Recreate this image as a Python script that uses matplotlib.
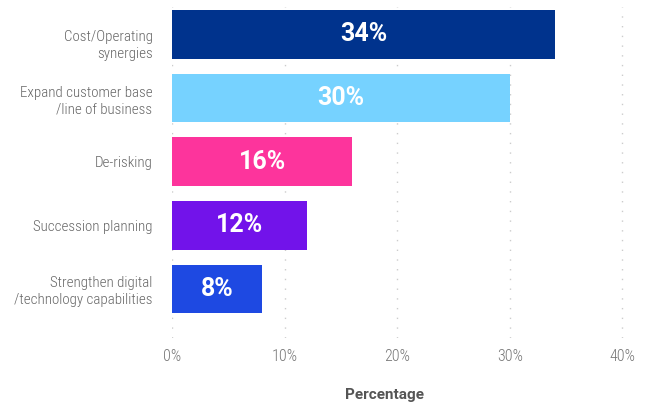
import matplotlib.pyplot as plt
import matplotlib.transforms as mtransforms
from matplotlib import font_manager

categories = ["Cost/Operating\nsynergies",
              "Expand customer base\n/line of business",
              "De-risking",
              "Succession planning",
              "Strengthen digital\n/technology capabilities"]
values = [34, 30, 16, 12, 8]
bar_colors = ["#00338D", "#76D2FF", "#FD349C", "#7213EA", "#1E49E2"]
xticks = [0, 10, 20, 30, 40]
xtick_labels = ["0%", "10%", "20%", "30%", "40%"]

# pick a narrow face for axis text if one is installed
names = {f.name for f in font_manager.fontManager.ttflist}
narrow_kw = {"family": "DejaVu Sans", "stretch": "condensed"}
for cand in ["Roboto Condensed", "Liberation Sans Narrow", "Open Sans Condensed"]:
    if cand in names:
        narrow_kw = {"family": cand}
        break

fig = plt.figure(figsize=(6.58, 4.03), dpi=100)
ax = fig.add_axes([172 / 658, 1 - 338 / 403, 456 / 658, 331 / 403])

ypos = list(range(len(categories)))
ax.barh(ypos, values, height=0.76, color=bar_colors, zorder=2)

# value labels inside bars
for y, v in zip(ypos, values):
    ax.text(v / 2, y, f"{v}%", ha="center", va="center", color="white",
            fontsize=18, fontweight="bold", family=["Roboto", "DejaVu Sans"], zorder=3)

ax.set_xlim(0, 40.5)
ax.set_ylim(4.77, -0.43)
ax.set_xticks(xticks)
ax.set_xticklabels(xtick_labels, fontsize=11.5, color="#777777", fontweight="light",
                   **narrow_kw)
ax.set_yticks(ypos)
ax.set_yticklabels(categories, fontsize=10.8, color="#666666", fontweight="light",
                   linespacing=1.25, **narrow_kw)
ax.tick_params(axis="both", length=0)
ax.tick_params(axis="y", pad=14)
ax.tick_params(axis="x", pad=8)

# first category label sits a little low
first = ax.get_yticklabels()[0]
first.set_transform(first.get_transform() +
                    mtransforms.ScaledTranslation(0, -8 / 100, fig.dpi_scale_trans))

ax.grid(axis="x", color="#cccccc", linestyle=(0, (1, 6)), linewidth=1, zorder=0)
for s in ax.spines.values():
    s.set_visible(False)

ax.set_xlabel("Percentage", fontsize=11, fontweight="bold", color="#555555",
              family=["Roboto", "DejaVu Sans"])
ax.xaxis.set_label_coords((384 - 172) / 456, -0.15)

fig.savefig("out.png", dpi=100)
